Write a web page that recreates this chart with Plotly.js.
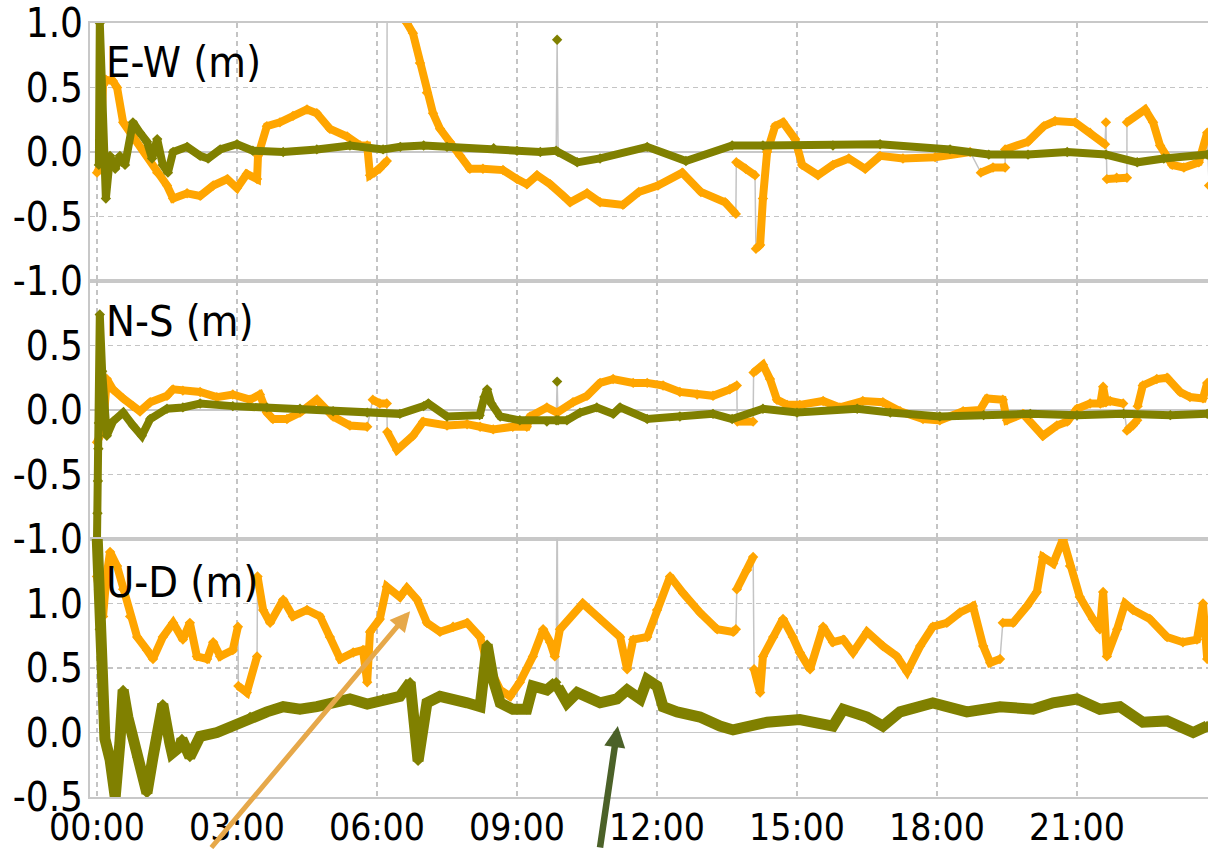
<!DOCTYPE html>
<html>
<head>
<meta charset="utf-8">
<script src="https://cdn.plot.ly/plotly-3.0.1.min.js"></script>
<style>
html,body{margin:0;padding:0;overflow:hidden;background:#fff;}
#chart{width:1230px;height:849px;}
</style>
</head>
<body>
<div id="chart"></div>
<script>
// ---- tick labels / panel names ----
const hourTicks = [0, 3, 6, 9, 12, 15, 18, 21];
const hourLabels = ["00:00", "03:00", "06:00", "09:00", "12:00", "15:00", "18:00", "21:00"];
const panelNames = ["E-W (m)", "N-S (m)", "U-D (m)"];
const tickValsEW = [-1, -0.5, 0, 0.5, 1];
const tickTextEW = ["-1.0", "-0.5", "0.0", "0.5", "1.0"];
const tickValsNS = [-1, -0.5, 0, 0.5];
const tickTextNS = ["-1.0", "-0.5", "0.0", "0.5"];
const tickValsUD = [-0.5, 0, 0.5, 1];
const tickTextUD = ["-0.5", "0.0", "0.5", "1.0"];

// ---- E-W (hours, metres); null = data gap ----
const ewTimeOrange = [0.00,0.06,0.13,0.19,0.34,0.43,0.56,0.77,1.07,1.29,1.50,1.63,1.93,2.21,2.49,2.79,3.00,3.21,3.43,3.45,3.64,3.92,4.20,4.50,4.71,4.99,5.36,5.64,5.79,5.85,5.94,6.06,6.13,6.21,6.22,6.22,6.50,6.64,6.77,6.92,7.07,7.20,7.35,7.56,7.78,7.99,8.27,8.70,9.00,9.21,9.43,9.71,9.99,10.14,10.50,10.78,11.27,11.61,12.02,12.54,12.94,13.46,13.69,13.69,13.70,13.90,14.10,14.10,14.12,14.21,14.27,14.36,14.53,14.70,14.96,15.11,15.45,15.77,16.11,16.46,16.78,17.27,17.96,18.71,18.71,18.94,19.20,19.46,19.46,19.46,19.95,20.29,20.53,20.96,21.28,21.60,21.61,21.62,21.63,21.64,21.85,22.07,22.07,22.07,22.46,22.63,22.78,23.04,23.29,23.61,23.79,23.80,23.83];
const ewOrange = [-0.16,-0.12,0.52,0.56,0.55,0.50,0.23,0.12,-0.03,-0.16,-0.26,-0.36,-0.32,-0.34,-0.26,-0.21,-0.28,-0.17,-0.21,-0.03,0.20,0.23,0.28,0.33,0.30,0.18,0.12,0.05,0.05,-0.18,-0.16,-0.13,-0.10,-0.07,null,1.60,1.20,1.00,0.92,0.69,0.46,0.30,0.18,0.08,-0.03,-0.13,-0.13,-0.14,-0.21,-0.25,-0.18,-0.25,-0.34,-0.39,-0.32,-0.39,-0.41,-0.31,-0.26,-0.16,-0.31,-0.39,-0.48,null,-0.08,-0.13,-0.18,null,-0.75,-0.72,-0.36,0.00,0.20,0.23,0.10,-0.10,-0.18,-0.10,-0.05,-0.13,-0.03,-0.05,-0.04,0.00,null,-0.16,-0.12,-0.12,null,0.02,0.08,0.20,0.24,0.23,0.15,0.06,null,0.23,null,-0.21,-0.20,-0.20,null,0.23,0.33,0.23,0.05,-0.10,-0.12,-0.08,0.15,null,-0.26];
const ewTimeOlive = [0.04,0.06,0.19,0.28,0.39,0.49,0.60,0.77,0.92,1.07,1.18,1.29,1.41,1.52,1.63,1.93,2.21,2.38,2.64,3.00,3.34,3.99,4.71,5.42,6.13,6.50,7.00,7.50,8.50,9.00,9.50,9.84,9.85,9.86,9.87,9.88,10.29,10.78,11.79,12.62,13.61,14.27,15.77,16.78,18.28,19.11,19.95,20.79,21.62,22.29,22.86,23.79];
const ewOlive = [-0.10,1.00,-0.36,-0.03,-0.13,-0.03,-0.10,0.23,0.15,0.08,-0.05,0.10,-0.10,-0.16,0.00,0.04,-0.03,-0.05,0.02,0.06,0.01,0.00,0.02,0.05,0.02,0.04,0.05,0.04,0.03,0.01,0.00,0.01,null,0.87,null,0.00,-0.08,-0.05,0.04,-0.07,0.05,0.05,0.05,0.06,0.02,-0.02,-0.02,0.00,-0.02,-0.08,-0.05,-0.02];

// ---- N-S ----
const nsTimeOrange = [0.00,0.13,0.21,0.34,0.56,0.77,0.92,1.14,1.50,1.63,1.84,2.21,2.57,2.91,3.28,3.49,3.64,3.77,4.07,4.35,4.71,5.06,5.42,5.79,5.85,5.91,6.06,6.21,6.21,6.22,6.43,6.77,6.99,7.50,7.93,8.21,8.49,8.91,9.21,9.28,9.64,9.86,10.20,10.50,10.78,11.06,11.49,11.79,12.13,12.49,12.86,13.20,13.56,13.71,13.71,13.72,14.06,14.06,14.07,14.27,14.42,14.57,14.79,15.06,15.56,15.92,16.41,16.84,17.21,17.70,18.06,18.56,18.92,19.07,19.41,19.50,19.84,20.27,20.57,20.79,21.00,21.28,21.50,21.56,21.62,21.71,21.99,22.03,22.07,22.20,22.29,22.29,22.30,22.41,22.71,22.93,23.21,23.42,23.70,23.79];
const nsOrange = [-0.25,-0.15,0.24,0.16,0.09,0.03,-0.01,0.06,0.11,0.16,0.15,0.14,0.10,0.12,0.08,0.12,-0.02,-0.07,-0.07,-0.02,0.08,-0.05,-0.12,-0.13,null,0.08,0.05,0.05,null,-0.17,-0.31,-0.20,-0.09,-0.12,-0.11,-0.13,-0.15,-0.13,-0.13,-0.05,0.02,-0.02,0.06,0.11,0.21,0.24,0.21,0.21,0.19,0.14,0.12,0.11,0.16,0.19,null,-0.09,-0.09,null,0.29,0.35,0.24,0.08,0.04,0.04,0.07,0.02,0.07,0.06,-0.01,-0.07,-0.08,-0.01,0.00,0.09,0.08,-0.08,-0.03,-0.20,-0.12,-0.09,0.01,0.05,0.05,0.18,0.06,0.07,0.05,null,-0.16,-0.12,-0.08,null,0.03,0.19,0.24,0.25,0.14,0.10,0.09,0.21];
const nsTimeOlive = [0.00,0.01,0.02,0.03,0.04,0.06,0.11,0.21,0.34,0.56,0.77,0.96,1.14,1.50,1.84,2.21,2.91,3.64,4.35,5.06,5.79,6.49,7.00,7.10,7.50,8.20,8.30,8.36,8.45,8.64,9.06,9.64,9.84,9.85,9.86,9.87,9.88,10.07,10.35,10.71,11.06,11.21,11.79,12.49,13.20,13.61,14.27,15.00,16.29,17.00,18.06,19.00,20.00,21.00,22.00,23.00,23.79];
const nsOlive = [-1.00,-0.80,-0.55,-0.30,-0.10,0.74,0.30,-0.20,-0.09,-0.02,-0.12,-0.20,-0.07,0.01,0.02,0.05,0.03,0.02,0.01,-0.01,-0.02,-0.03,0.03,0.05,-0.05,-0.04,0.10,0.16,0.05,-0.05,-0.08,-0.09,-0.08,null,0.22,null,-0.08,-0.08,-0.02,0.02,-0.03,0.02,-0.07,-0.05,-0.03,-0.07,0.01,-0.02,0.01,-0.02,-0.05,-0.04,-0.03,-0.04,-0.03,-0.04,-0.03];

// ---- U-D ----
const udTimeOrange = [0.00,0.04,0.13,0.20,0.28,0.43,0.56,0.71,0.86,1.07,1.20,1.41,1.63,1.84,1.99,2.14,2.36,2.49,2.64,2.91,3.02,3.02,3.03,3.21,3.43,3.43,3.44,3.56,3.71,3.99,4.20,4.50,4.78,4.99,5.21,5.49,5.70,5.79,5.85,6.06,6.21,6.49,6.64,6.86,7.07,7.35,7.63,7.93,8.21,8.36,8.64,8.85,9.06,9.34,9.56,9.71,9.81,9.92,10.41,10.78,11.21,11.36,11.49,11.79,12.00,12.28,12.56,12.92,13.29,13.63,13.69,13.70,13.71,13.93,14.06,14.07,14.08,14.21,14.27,14.49,14.70,14.91,15.06,15.28,15.56,15.77,15.99,16.20,16.50,16.84,17.14,17.36,17.64,17.91,18.21,18.49,18.77,18.99,19.14,19.35,19.38,19.41,19.63,19.93,20.14,20.27,20.49,20.70,20.85,21.06,21.34,21.49,21.56,21.64,21.86,22.03,22.20,22.56,22.93,23.27,23.57,23.70,23.79];
const udOrange = [1.21,1.11,0.90,1.20,1.40,1.29,1.11,0.90,0.74,0.64,0.57,0.74,0.85,0.72,0.85,0.59,0.57,0.70,0.59,0.64,0.82,null,0.36,0.31,0.59,null,1.21,0.95,0.85,1.03,0.90,0.95,0.90,0.74,0.57,0.62,0.64,0.39,0.78,0.88,1.13,1.05,1.12,1.03,0.85,0.78,0.82,0.85,0.74,0.54,0.33,0.28,0.39,0.59,0.80,0.70,0.59,0.80,1.00,0.88,0.74,0.49,0.72,0.74,0.95,1.21,1.08,0.93,0.80,0.78,0.80,null,1.11,1.26,1.36,null,0.49,0.31,0.59,0.74,0.88,0.74,0.62,0.49,0.82,0.70,0.72,0.62,0.78,0.67,0.59,0.47,0.67,0.82,0.85,0.93,0.98,0.67,0.54,0.57,null,0.85,0.85,0.98,1.09,1.36,1.31,1.50,1.29,1.05,0.88,0.80,1.09,0.59,0.80,1.00,0.95,0.88,0.74,0.70,0.72,1.00,0.57];
const udTimeOlive = [0.00,0.06,0.11,0.13,0.17,0.28,0.39,0.49,0.56,0.66,0.86,1.07,1.20,1.41,1.56,1.61,1.78,1.82,1.99,2.21,2.57,2.91,3.28,3.64,3.99,4.35,4.71,5.06,5.42,5.79,6.13,6.49,6.71,6.88,7.07,7.35,7.93,8.21,8.36,8.49,8.64,8.91,9.21,9.34,9.64,9.84,9.85,9.86,9.87,9.88,10.07,10.29,10.78,11.14,11.36,11.64,11.79,12.00,12.13,12.43,12.92,13.35,13.63,14.36,15.06,15.77,15.99,16.50,16.84,17.21,17.91,18.64,19.35,20.06,20.49,21.00,21.49,21.92,22.41,22.93,23.49,23.79];
const udOlive = [1.55,0.80,0.47,0.28,-0.05,-0.21,-0.50,-0.08,0.33,0.12,-0.19,-0.47,-0.19,0.22,-0.08,-0.16,-0.11,-0.05,-0.19,-0.03,0.00,0.05,0.12,0.16,0.20,0.18,0.20,0.23,0.26,0.22,0.26,0.28,0.39,-0.22,0.23,0.28,0.23,0.20,0.68,0.41,0.23,0.18,0.18,0.36,0.33,0.39,null,1.80,null,0.35,0.23,0.31,0.23,0.26,0.33,0.26,0.41,0.36,0.20,0.16,0.12,0.05,0.02,0.08,0.10,0.05,0.18,0.12,0.05,0.16,0.23,0.16,0.20,0.18,0.23,0.26,0.18,0.20,0.08,0.09,0.00,0.05];

// ---- styling ----
const ORANGE = '#FFA500', OLIVE = '#808000', CONNECT = '#c4c4c4';
const FRAME = '#c8c8c8', GRID = '#c4c4c4';
const FONT = '"DejaVu Sans Condensed", "DejaVu Sans", Verdana, sans-serif';

const panels = [
  {tO: ewTimeOrange, vO: ewOrange, tG: ewTimeOlive, vG: ewOlive, ax: 'x', ay: 'y', oliveW: 8},
  {tO: nsTimeOrange, vO: nsOrange, tG: nsTimeOlive, vG: nsOlive, ax: 'x2', ay: 'y2', oliveW: 8},
  {tO: udTimeOrange, vO: udOrange, tG: udTimeOlive, vG: udOlive, ax: 'x3', ay: 'y3', oliveW: 11}
];

const traces = [];
panels.forEach(p => {
  traces.push({x: p.tO, y: p.vO, xaxis: p.ax, yaxis: p.ay, type: 'scatter', mode: 'lines',
    connectgaps: true, line: {color: CONNECT, width: 1.5}, hoverinfo: 'skip'});
  traces.push({x: p.tG, y: p.vG, xaxis: p.ax, yaxis: p.ay, type: 'scatter', mode: 'lines',
    connectgaps: true, line: {color: CONNECT, width: 1.5}, hoverinfo: 'skip'});
});
panels.forEach(p => {
  traces.push({x: p.tO, y: p.vO, xaxis: p.ax, yaxis: p.ay, type: 'scatter', mode: 'lines+markers',
    connectgaps: false, line: {color: ORANGE, width: 8}, marker: {color: ORANGE, size: 8, symbol: 'diamond'}});
});
panels.forEach(p => {
  traces.push({x: p.tG, y: p.vG, xaxis: p.ax, yaxis: p.ay, type: 'scatter', mode: 'lines+markers',
    connectgaps: false, line: {color: OLIVE, width: p.oliveW}, marker: {color: OLIVE, size: 8, symbol: 'diamond'}});
});

const xBase = {
  range: [-0.15, 24], tickvals: hourTicks, ticktext: hourLabels,
  showgrid: true, gridcolor: GRID, gridwidth: 1.5, griddash: '5px,4px',
  zeroline: false, showline: true, mirror: true, linecolor: FRAME, linewidth: 2,
  ticks: '', tickfont: {family: FONT, size: 37, color: '#000'}, ticklabelstandoff: -3
};
const yBase = {
  showgrid: true, gridcolor: GRID, gridwidth: 1.5, griddash: '5px,4px',
  zeroline: true, zerolinecolor: FRAME, zerolinewidth: 1.5,
  showline: true, mirror: true, linecolor: FRAME, linewidth: 2,
  ticks: '', tickfont: {family: FONT, size: 40, color: '#000'}, ticklabelstandoff: -3
};

const titleY = [0.9496, 0.615, 0.2778];
const annotations = panelNames.map((t, i) => ({
  text: t, xref: 'paper', yref: 'paper', x: 0.012, y: titleY[i], xanchor: 'left', yanchor: 'middle',
  showarrow: false, font: {family: FONT, size: 43, color: '#000'}
}));
annotations.push({x: 6.71, y: 0.94, xref: 'x3', yref: 'y3', text: '', showarrow: true,
  ax: -200, ay: 245, arrowhead: 2, arrowsize: 0.8, arrowwidth: 5, arrowcolor: '#E6A84A'});
annotations.push({x: 11.16, y: 0.05, xref: 'x3', yref: 'y3', text: '', showarrow: true,
  ax: -18, ay: 135, arrowhead: 2, arrowsize: 0.65, arrowwidth: 6.5, arrowcolor: '#4B6128'});

const layout = {
  width: 1230, height: 849,
  margin: {l: 90, r: 13, t: 23, b: 52, pad: 0},
  paper_bgcolor: '#ffffff', plot_bgcolor: '#ffffff',
  showlegend: false,
  font: {family: FONT, size: 38, color: '#000'},
  xaxis: Object.assign({}, xBase, {anchor: 'y', showticklabels: false}),
  xaxis2: Object.assign({}, xBase, {anchor: 'y2', showticklabels: false}),
  xaxis3: Object.assign({}, xBase, {anchor: 'y3', showticklabels: true}),
  yaxis: Object.assign({}, yBase, {domain: [2/3, 1], range: [-1, 1], tickvals: tickValsEW, ticktext: tickTextEW, anchor: 'x'}),
  yaxis2: Object.assign({}, yBase, {domain: [1/3, 2/3], range: [-1, 1], tickvals: tickValsNS, ticktext: tickTextNS, anchor: 'x2'}),
  yaxis3: Object.assign({}, yBase, {domain: [0, 1/3], range: [-0.5, 1.5], tickvals: tickValsUD, ticktext: tickTextUD, anchor: 'x3'}),
  annotations: annotations
};

Plotly.newPlot('chart', traces, layout, {displayModeBar: false, staticPlot: true});
</script>
</body>
</html>
